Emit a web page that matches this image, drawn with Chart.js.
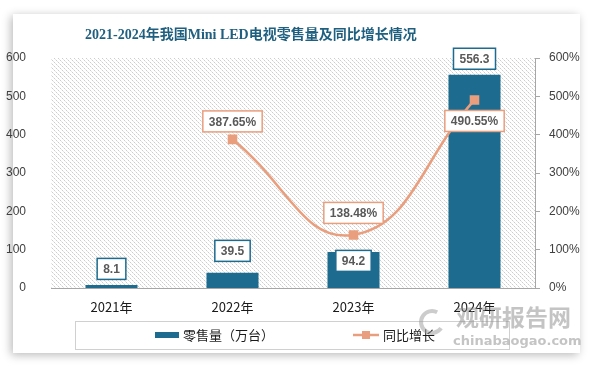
<!DOCTYPE html>
<html>
<head>
<meta charset="utf-8">
<script src="https://cdn.jsdelivr.net/npm/chart.js@4"></script>
<style>
  html, body { margin: 0; padding: 0; background: #ffffff; }
  #card { position: absolute; left: 13px; top: 14px; width: 567px; height: 339px; background: #fff; box-shadow: -2px 2px 9px rgba(0,0,0,0.28); }
  #wrap { position: absolute; left: 0; top: 0; width: 594px; height: 366px; }
</style>
</head>
<body>
<div id="card"></div>
<div id="wrap"><canvas id="chart" width="594" height="366"></canvas></div>
<script>
// data
var years = ['2021年', '2022年', '2023年', '2024年'];
var salesValues = [8.1, 39.5, 94.2, 556.3];
var growthValues = [null, 387.65, 138.48, 490.55];
var leftTicks = [0, 100, 200, 300, 400, 500, 600];
var titleText = '2021-2024年我国Mini LED电视零售量及同比增长情况';
var salesLabel = '零售量（万台）';
var growthLabel = '同比增长';

var barColor = '#1d6b8f';
var lineColor = '#e99e7d';

// dotted diagonal hatch for the plot background
function makeHatch(ctx) {
    var c = document.createElement('canvas');
    c.width = 4; c.height = 4;
    var p = c.getContext('2d');
    p.fillStyle = '#ffffff';
    p.fillRect(0, 0, 4, 4);
    p.fillStyle = '#cdcdcd';
    p.fillRect(0, 0, 1, 1);
    p.fillRect(2, 2, 1, 1);
    p.fillStyle = '#e6e6e6';
    p.fillRect(1, 1, 1, 1);
    p.fillRect(3, 3, 1, 1);
    return ctx.createPattern(c, 'repeat');
}

var hatchPlugin = {
    id: 'hatch',
    beforeDatasetsDraw: function(chart) {
        var a = chart.chartArea, ctx = chart.ctx;
        ctx.save();
        ctx.fillStyle = makeHatch(ctx);
        ctx.fillRect(a.left, a.top, a.right - a.left, a.bottom - a.top);
        ctx.restore();
    }
};

function drawBox(ctx, text, cx, cy, border) {
    ctx.font = 'bold 12px "Liberation Sans", Arial, sans-serif';
    var w = ctx.measureText(text).width + 12;
    var h = 21;
    ctx.fillStyle = '#ffffff';
    ctx.fillRect(cx - w / 2, cy - h / 2, w, h);
    ctx.strokeStyle = border;
    ctx.lineWidth = 1.5;
    ctx.strokeRect(cx - w / 2, cy - h / 2, w, h);
    ctx.fillStyle = '#595959';
    ctx.textAlign = 'center';
    ctx.textBaseline = 'middle';
    ctx.fillText(text, cx, cy + 1);
}

var labelPlugin = {
    id: 'boxLabels',
    afterDatasetsDraw: function(chart, args, opts) {
        var ctx = chart.ctx;
        ctx.save();
        chart.data.datasets.forEach(function(ds, di) {
            var meta = chart.getDatasetMeta(di);
            var dys = di === 0 ? opts.barDy : opts.lineDy;
            meta.data.forEach(function(el, i) {
                var v = ds.data[i];
                if (v === null) return;
                var text = di === 0 ? String(v) : v.toFixed(2) + '%';
                drawBox(ctx, text, el.x, el.y + dys[i], di === 0 ? barColor : lineColor);
            });
        });
        ctx.restore();
    }
};

var decorPlugin = {
    id: 'decor',
    afterDraw: function(chart) {
        var ctx = chart.ctx, a = chart.chartArea;
        ctx.save();
        // title
        ctx.font = 'bold 14px "Liberation Serif", "Noto Sans CJK SC", serif';
        ctx.fillStyle = '#1f5f7f';
        ctx.textAlign = 'left';
        ctx.textBaseline = 'middle';
        ctx.fillText(titleText, 85, 35);

        // legend box
        ctx.strokeStyle = '#d0d0d0';
        ctx.lineWidth = 1;
        ctx.strokeRect(75.5, 321.5, 434, 28);
        ctx.font = '13px "Noto Sans CJK SC", sans-serif';
        ctx.fillStyle = barColor;
        ctx.fillRect(155, 332, 24, 6);
        ctx.fillStyle = '#1a1a1a';
        ctx.fillText(salesLabel, 183, 335);
        ctx.strokeStyle = lineColor;
        ctx.lineWidth = 2.5;
        ctx.beginPath();
        ctx.moveTo(353, 335); ctx.lineTo(379, 335);
        ctx.stroke();
        ctx.fillStyle = lineColor;
        ctx.fillRect(362, 331, 8, 8);
        ctx.fillStyle = '#1a1a1a';
        ctx.fillText(growthLabel, 383, 335);

        // watermark
        ctx.globalAlpha = 0.5;
        ctx.fillStyle = '#8a8a8a';
        ctx.font = 'bold 23px "Noto Sans CJK SC", sans-serif';
        ctx.fillText('观研报告网', 456, 317);
        ctx.font = 'bold 13px "DejaVu Sans", sans-serif';
        ctx.fillText('chinabaogao.com', 453, 342);
        ctx.lineWidth = 4;
        ctx.strokeStyle = '#9a9a9a';
        ctx.beginPath();
        ctx.arc(432, 322, 11, 0.6, 5.2);
        ctx.stroke();
        ctx.restore();
    }
};

var ctx = document.getElementById('chart').getContext('2d');
var chart = new Chart(ctx, {
    data: {
        labels: years,
        datasets: [
            {
                type: 'bar',
                label: salesLabel,
                data: salesValues,
                backgroundColor: barColor,
                yAxisID: 'y',
                barPercentage: 0.43,
                categoryPercentage: 1,
                order: 1
            },
            {
                type: 'line',
                label: growthLabel,
                data: growthValues,
                borderColor: lineColor,
                backgroundColor: lineColor,
                borderWidth: 2.5,
                pointStyle: 'rect',
                pointRadius: 5,
                pointHoverRadius: 5,
                tension: 0.45,
                spanGaps: true,
                yAxisID: 'y1',
                order: 0
            }
        ]
    },
    options: {
        responsive: false,
        animation: false,
        layout: { padding: { top: 58, left: 0, right: 0, bottom: 0 } },
        plugins: {
            legend: { display: false },
            tooltip: { enabled: false },
            boxLabels: {
                barDy: [-16, -22, 9, -16],
                lineDy: [0, -18, -22, 21]
            }
        },
        scales: {
            x: {
                grid: { display: false, drawTicks: false },
                border: { display: true, color: '#a6a6a6', width: 1 },
                ticks: { color: '#1a1a1a', padding: 11, font: { size: 13, family: '"Noto Sans CJK SC", sans-serif' } },
                afterFit: function(s) { s.height = 78; }
            },
            y: {
                position: 'left',
                min: 0, max: 600,
                afterBuildTicks: function(s) { s.ticks = leftTicks.map(function(v) { return { value: v }; }); },
                grid: { display: false },
                border: { display: false },
                ticks: { color: '#404040', padding: 17, font: { size: 12, family: '"Liberation Sans", Arial, sans-serif' } },
                afterFit: function(s) { s.width = 51; }
            },
            y1: {
                position: 'right',
                min: 0, max: 600,
                afterBuildTicks: function(s) { s.ticks = leftTicks.map(function(v) { return { value: v }; }); },
                grid: { display: true, drawOnChartArea: false, drawTicks: true, tickLength: 5, color: '#a6a6a6' },
                border: { display: true, color: '#a6a6a6', width: 1 },
                ticks: { color: '#404040', padding: 9, font: { size: 12, family: '"Liberation Sans", Arial, sans-serif' },
                    callback: function(v) { return v + '%'; } },
                afterFit: function(s) { s.width = 59; }
            }
        }
    },
    plugins: [hatchPlugin, labelPlugin, decorPlugin]
});
</script>
</body>
</html>
